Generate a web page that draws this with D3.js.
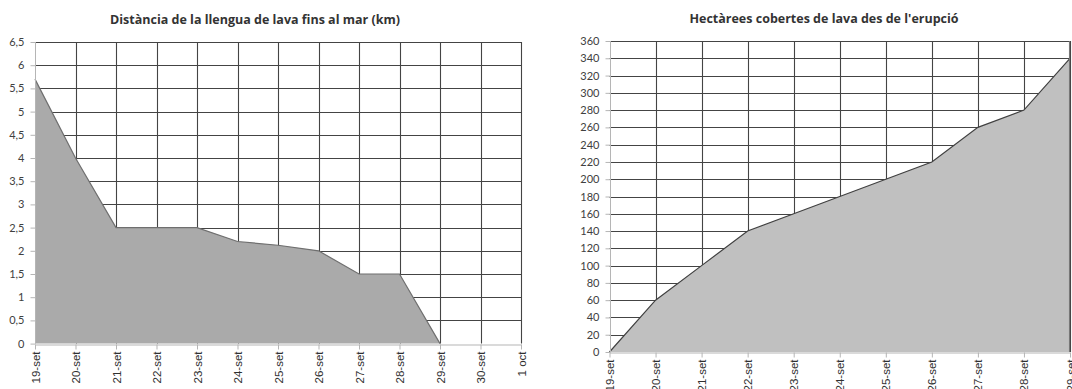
<!DOCTYPE html>
<html><head><meta charset="utf-8">
<script src="https://cdn.jsdelivr.net/npm/d3@7"></script>
<style>
body{margin:0;background:#fff;}
svg{display:block;}
</style></head>
<body>
<svg id="c" width="1072" height="389"></svg>
<script>
// ---- data ----
const leftTitle = "Distància de la llengua de lava fins al mar (km)";
const leftCats = ["19-set","20-set","21-set","22-set","23-set","24-set","25-set","26-set","27-set","28-set","29-set","30-set","1 oct"];
const leftVals = [5.7, 4.0, 2.5, 2.5, 2.5, 2.2, 2.12, 2.0, 1.5, 1.5, 0, null, null];
const leftTicks = [0,0.5,1,1.5,2,2.5,3,3.5,4,4.5,5,5.5,6,6.5];

const rightTitle = "Hectàrees cobertes de lava des de l'erupció";
const rightCats = ["19-set","20-set","21-set","22-set","23-set","24-set","25-set","26-set","27-set","28-set","29-set"];
const rightVals = [0, 60, 100, 140, 160, 180, 200, 220, 260, 280, 340];
const rightTicks = d3.range(0, 361, 20);

const svg = d3.select("#c");

function panel(cfg){
  const g = svg.append("g");
  const x = d3.scalePoint().domain(cfg.cats).range([cfg.x0, cfg.x1]);
  const y = d3.scaleLinear().domain([0, cfg.ymax]).range([cfg.y0, cfg.y1]);
  // horizontal gridlines
  g.append("g").selectAll("line").data(cfg.ticks.filter(t=>t>0)).join("line")
    .attr("x1", cfg.x0).attr("x2", cfg.x1)
    .attr("y1", d=>Math.round(y(d))+0.5).attr("y2", d=>Math.round(y(d))+0.5)
    .attr("stroke", "#444").attr("stroke-width", 1.1);
  // vertical gridlines
  g.append("g").selectAll("line").data(cfg.cats.slice(1)).join("line")
    .attr("x1", d=>Math.round(x(d))+0.5).attr("x2", d=>Math.round(x(d))+0.5)
    .attr("y1", cfg.y0).attr("y2", cfg.y1)
    .attr("stroke", "#444").attr("stroke-width", 1.1);
  // area
  const pts = cfg.cats.map((c,i)=>({c, v:cfg.vals[i]}));
  const area = d3.area().defined(d=>d.v!==null).x(d=>x(d.c)).y0(y(0)).y1(d=>y(d.v));
  const line = d3.line().defined(d=>d.v!==null).x(d=>x(d.c)).y(d=>y(d.v));
  g.append("path").datum(pts).attr("d", area).attr("fill", cfg.fill);
  g.append("path").datum(pts).attr("d", line).attr("fill","none")
    .attr("stroke", cfg.edge).attr("stroke-width", 1.2);
  if (cfg.rightBorder){
    g.append("line").attr("x1", cfg.x1-0.5).attr("x2", cfg.x1-0.5)
      .attr("y1", cfg.y0).attr("y2", cfg.y1).attr("stroke", "#777").attr("stroke-width", 1.1);
  }
  // y axis
  const ya = d3.axisLeft(y).tickValues(cfg.ticks).tickSize(5).tickPadding(6)
    .tickFormat(cfg.fmt);
  const yg = g.append("g").attr("transform", `translate(${Math.round(cfg.x0)+0.5},0)`).call(ya);
  yg.selectAll(".domain").attr("stroke", "#b5b5b5").attr("d", `M0,${cfg.y0}V${cfg.y1}`);
  yg.selectAll(".tick line").attr("stroke", "#b5b5b5");
  yg.selectAll(".tick text").attr("fill", "#404040")
    .style("font-family", "Lato, 'Open Sans', sans-serif").style("font-size", "11px");
  // x axis
  const xa = d3.axisBottom(x).tickSize(5).tickSizeOuter(0).tickPadding(0);
  const xg = g.append("g").attr("transform", `translate(0,${Math.round(cfg.y0)+0.5})`).call(xa);
  xg.select(".domain").attr("stroke", "#b5b5b5");
  xg.selectAll(".tick line").attr("stroke", "#b5b5b5");
  xg.selectAll(".tick text")
    .attr("transform", "rotate(-90)")
    .attr("x", -7).attr("y", 0).attr("dy", "0.35em")
    .attr("text-anchor", "end").attr("fill", "#303030")
    .style("font-family", "'Liberation Sans', Arial, sans-serif").style("font-size", "11.5px");
  // title
  svg.append("text").attr("x", cfg.tx).attr("y", cfg.ty).attr("text-anchor","middle")
    .attr("fill", "#333").style("font-family", "'Open Sans', Lato, sans-serif")
    .style("font-weight", "bold").style("font-size", "12.5px").text(cfg.title);
}

const fmtComma = d => String(d).replace(".", ",");

panel({cats:leftCats, vals:leftVals, ticks:leftTicks, ymax:6.5,
  x0:35, x1:521, y0:343.6, y1:42, fill:"#aaaaaa", edge:"#6f6f6f",
  fmt:fmtComma, title:leftTitle, tx:255, ty:24, rightBorder:false});

panel({cats:rightCats, vals:rightVals, ticks:rightTicks, ymax:360,
  x0:609.5, x1:1070, y0:352, y1:41, fill:"#c0c0c0", edge:"#404040",
  fmt:d=>String(d), title:rightTitle, tx:824, ty:23, rightBorder:true});
</script>
</body></html>
